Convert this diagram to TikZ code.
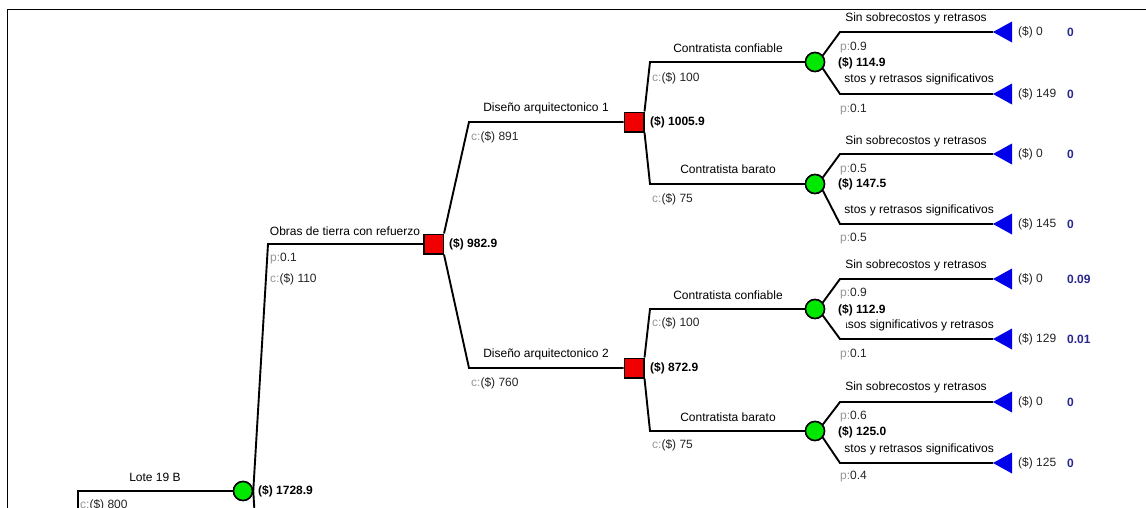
\documentclass[tikz,border=0pt]{standalone}
\usepackage{fontspec}
\setmainfont{Liberation Sans}
\definecolor{chgreen}{RGB}{0,232,0}
\definecolor{decred}{RGB}{240,0,0}
\definecolor{termblue}{RGB}{0,0,235}
\definecolor{probnavy}{RGB}{40,40,140}
\definecolor{lgray}{RGB}{150,150,150}
\definecolor{dgray}{RGB}{35,35,35}
\newcommand{\myp}[1]{\textcolor{lgray}{p:}#1}
\newcommand{\myc}[1]{\textcolor{lgray}{c:}#1}
\begin{document}
\begin{tikzpicture}[x=1pt,y=-1pt,
  every node/.style={font=\fontsize{12}{14}\selectfont, inner sep=0pt},
  br/.style={line width=1.9pt, line join=miter},
  chance/.style={circle, draw=black, line width=1.5pt, fill=chgreen, minimum size=19pt},
  dec/.style={rectangle, draw=black, line width=1.5pt, fill=decred, minimum size=19.5pt},
  blab/.style={text=black},
  sub/.style={anchor=west, text=dgray},
  val/.style={anchor=west, font=\fontsize{12}{14}\selectfont\bfseries},
  tval/.style={anchor=west, text=dgray},
  pval/.style={anchor=west, text=probnavy, font=\fontsize{12}{14}\selectfont\bfseries},
  tri/.style={fill=termblue}
]
\useasboundingbox (0,0) rectangle (1146,507);
\clip (0,0) rectangle (1146,507);
% frame
\draw[line width=1.5pt] (7.5,520) -- (7.5,9.5) -- (1160,9.5);

% ---------- nodes ----------
\node[chance] (c0) at (243,491) {};
\node[dec] (d1) at (433.5,244) {};
\node[dec] (d2) at (634,122) {};
\node[dec] (d3) at (634,368) {};
\node[chance] (cA) at (815,62) {};
\node[chance] (cB) at (815,184) {};
\node[chance] (cC) at (815,309) {};
\node[chance] (cD) at (815,431) {};

% corners
\coordinate (r0) at (78,520);
\coordinate (r1) at (78,491);
\coordinate (k2) at (268,244);
\coordinate (k3) at (255,520);
\coordinate (k4) at (469,122);
\coordinate (k5) at (469,368);
\coordinate (k6) at (650,62);
\coordinate (k7) at (650,184);
\coordinate (k8) at (650,309);
\coordinate (k9) at (650,431);

% outcome corners and terminal tips
\coordinate (aU) at (840,32);  \coordinate (tAU) at (993,32);
\coordinate (aL) at (840,94);  \coordinate (tAL) at (993,94);
\coordinate (bU) at (840,154); \coordinate (tBU) at (993,154);
\coordinate (bL) at (840,224); \coordinate (tBL) at (993,224);
\coordinate (cU) at (840,279); \coordinate (tCU) at (993,279);
\coordinate (cL) at (840,339); \coordinate (tCL) at (993,339);
\coordinate (dU) at (840,402); \coordinate (tDU) at (993,402);
\coordinate (dL) at (840,463); \coordinate (tDL) at (993,463);

% ---------- connectors ----------
\draw[br] (r0) -- (r1) -- (c0.west);
\draw[br] (c0.east) -- (k2) -- (d1.west);
\draw[br] (c0.east) -- (k3);
\draw[br] (d1.north east) -- (k4) -- (d2.west);
\draw[br] (d1.south east) -- (k5) -- (d3.west);
\draw[br] (d2.north east) -- (k6) -- (cA.west);
\draw[br] (d2.south east) -- (k7) -- (cB.west);
\draw[br] (d3.north east) -- (k8) -- (cC.west);
\draw[br] (d3.south east) -- (k9) -- (cD.west);
\foreach \c/\u/\l in {cA/a/tA, cB/b/tB, cC/c/tC, cD/d/tD}{
  \draw[br] (\c.40) -- (\u U) -- (\l U);
  \draw[br] (\c.-40) -- (\u L) -- (\l L);
}
% redraw nodes on top
\node[chance] at (c0) {};
\node[dec] at (d1) {};
\node[dec] at (d2) {};
\node[dec] at (d3) {};
\node[chance] at (cA) {};
\node[chance] at (cB) {};
\node[chance] at (cC) {};
\node[chance] at (cD) {};

% terminal triangles
\foreach \t in {tAU,tAL,tBU,tBL,tCU,tCL,tDU,tDL}{
  \fill[tri] (\t) -- ++(19,-10.5) -- ++(0,21) -- cycle;
}

% ---------- labels ----------
\node[blab] (lLote) at (155,477) {Lote 19 B};
\node[sub] (cLote) at (80,505) {\myc{(\$) 800}};
\node[val] (vc0) at (258,491) {(\$) 1728.9};

\node[blab] (lObras) at (345,231) {Obras de tierra con refuerzo};
\node[sub] (pObras) at (270,259) {\myp{0.1}};
\node[sub] (cObras) at (270,279) {\myc{(\$) 110}};
\node[val] (vd1) at (449,244) {(\$) 982.9};

\node[blab] (lD1) at (546,108) {Diseño arquitectonico 1};
\node[sub] (cD1) at (471,137) {\myc{(\$) 891}};
\node[val] (vd2) at (650,122) {(\$) 1005.9};

\node[blab] (lD2) at (546,354) {Diseño arquitectonico 2};
\node[sub] (cD2) at (471,383) {\myc{(\$) 760}};
\node[val] (vd3) at (650,368) {(\$) 872.9};

\node[blab] (lK6) at (728,48) {Contratista confiable};
\node[sub] (cK6) at (652,78) {\myc{(\$) 100}};
\node[blab] (lK7) at (728,169) {Contratista barato};
\node[sub] (cK7) at (652,199) {\myc{(\$) 75}};
\node[blab] (lK8) at (728,295) {Contratista confiable};
\node[sub] (cK8) at (652,323) {\myc{(\$) 100}};
\node[blab] (lK9) at (728,417) {Contratista barato};
\node[sub] (cK9) at (652,445) {\myc{(\$) 75}};

% chance A
\node[blab] (lAU) at (916,18) {Sin sobrecostos y retrasos};
\node[sub] (pAU) at (840,48) {\myp{0.9}};
\node[val] (vA) at (838,63) {(\$) 114.9};
\node[blab, anchor=east] (lAL) at (994,79) {stos y retrasos significativos};
\node[sub] (pAL) at (840,110) {\myp{0.1}};
\node[tval] (xAU) at (1018,32) {(\$) 0};
\node[pval] (qAU) at (1067,32) {0};
\node[tval] (xAL) at (1018,94) {(\$) 149};
\node[pval] (qAL) at (1067,94) {0};

% chance B
\node[blab] (lBU) at (916,141) {Sin sobrecostos y retrasos};
\node[sub] (pBU) at (840,170) {\myp{0.5}};
\node[val] (vB) at (838,184) {(\$) 147.5};
\node[blab, anchor=east] (lBL) at (994,210) {stos y retrasos significativos};
\node[sub] (pBL) at (840,239) {\myp{0.5}};
\node[tval] (xBU) at (1018,154) {(\$) 0};
\node[pval] (qBU) at (1067,154) {0};
\node[tval] (xBL) at (1018,224) {(\$) 145};
\node[pval] (qBL) at (1067,224) {0};

% chance C
\node[blab] (lCU) at (916,265) {Sin sobrecostos y retrasos};
\node[sub] (pCU) at (840,294) {\myp{0.9}};
\node[val] (vC) at (838,310) {(\$) 112.9};
\begin{scope}
\clip (846,312) rectangle (1000,340);
\node[blab, anchor=east] (lCL) at (994,325) {asos significativos y retrasos};
\end{scope}
\node[sub] (pCL) at (840,355) {\myp{0.1}};
\node[tval] (xCU) at (1018,279) {(\$) 0};
\node[pval] (qCU) at (1067,279) {0.09};
\node[tval] (xCL) at (1018,339) {(\$) 129};
\node[pval] (qCL) at (1067,339) {0.01};

% chance D
\node[blab] (lDU) at (916,387) {Sin sobrecostos y retrasos};
\node[sub] (pDU) at (840,417) {\myp{0.6}};
\node[val] (vD) at (838,432) {(\$) 125.0};
\node[blab, anchor=east] (lDL) at (994,449) {stos y retrasos significativos};
\node[sub] (pDL) at (840,477) {\myp{0.4}};
\node[tval] (xDU) at (1018,402) {(\$) 0};
\node[pval] (qDU) at (1067,402) {0};
\node[tval] (xDL) at (1018,463) {(\$) 125};
\node[pval] (qDL) at (1067,463) {0};
\end{tikzpicture}
\end{document}
